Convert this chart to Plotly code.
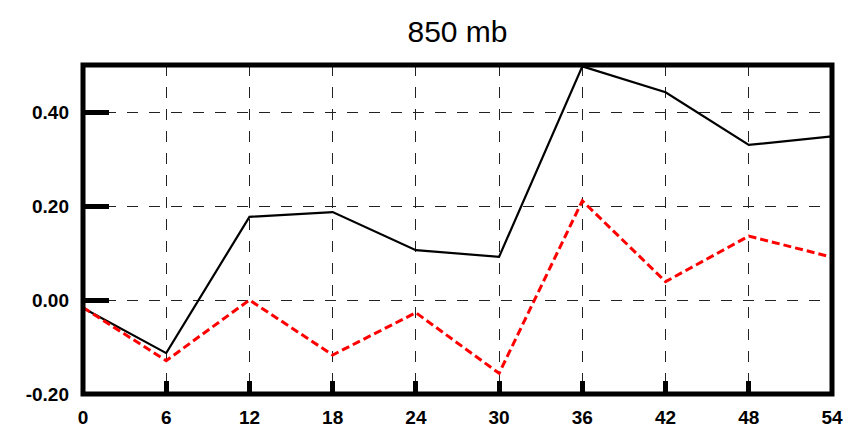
import plotly.graph_objects as go

# Forecast hour and the two series plotted for the 850 mb level
hours = [0, 6, 12, 18, 24, 30, 36, 42, 48, 54]
solid_series = [-0.017, -0.113, 0.177, 0.187, 0.106, 0.092, 0.497, 0.442, 0.330, 0.348]
dashed_series = [-0.016, -0.129, 0.000, -0.117, -0.027, -0.156, 0.211, 0.039, 0.136, 0.091]

x_ticks = hours
y_ticks = [-0.2, 0.0, 0.2, 0.4]
y_tick_text = ["-0.20", "0.00", "0.20", "0.40"]

fig = go.Figure()
fig.add_trace(go.Scatter(
    x=hours, y=solid_series, mode="lines",
    line=dict(color="black", width=2.2), showlegend=False,
))
fig.add_trace(go.Scatter(
    x=hours, y=dashed_series, mode="lines",
    line=dict(color="#ff0000", width=3, dash="8px,4px"), showlegend=False,
))

# Heavy frame around the plot area
fig.add_shape(type="rect", xref="paper", yref="paper", x0=0, x1=1, y0=0, y1=1,
              line=dict(color="black", width=5), layer="above")

fig.update_layout(
    width=856, height=432,
    margin=dict(l=83, r=24, t=65, b=38, autoexpand=False),
    paper_bgcolor="white", plot_bgcolor="white",
    title=dict(text="850 mb", x=0.5, xref="paper", xanchor="center",
               y=1 - 31 / 432, yanchor="middle", automargin=False,
               font=dict(family="Liberation Sans, Arial, sans-serif", size=30, color="black")),
    font=dict(family="Liberation Sans, Arial, sans-serif", color="black"),
)
fig.update_xaxes(
    range=[0, 54], tickvals=x_ticks, ticktext=[str(h) for h in x_ticks],
    ticks="inside", ticklen=13, tickwidth=5, tickcolor="black",
    showgrid=True, gridcolor="#222", gridwidth=1.2, griddash="11px,11px",
    zeroline=False, showline=False, automargin=False,
    tickfont=dict(size=19, weight="bold", color="black"),
    ticklabelstandoff=10,
)
fig.update_yaxes(
    range=[-0.2, 0.5], tickvals=y_ticks, ticktext=y_tick_text,
    ticks="inside", ticklen=26, tickwidth=5, tickcolor="black",
    showgrid=True, gridcolor="#222", gridwidth=1.2, griddash="11px,11px",
    zeroline=False, showline=False, automargin=False,
    tickfont=dict(size=19, weight="bold", color="black"),
    ticklabelstandoff=13,
)

fig.write_html("out.html")
